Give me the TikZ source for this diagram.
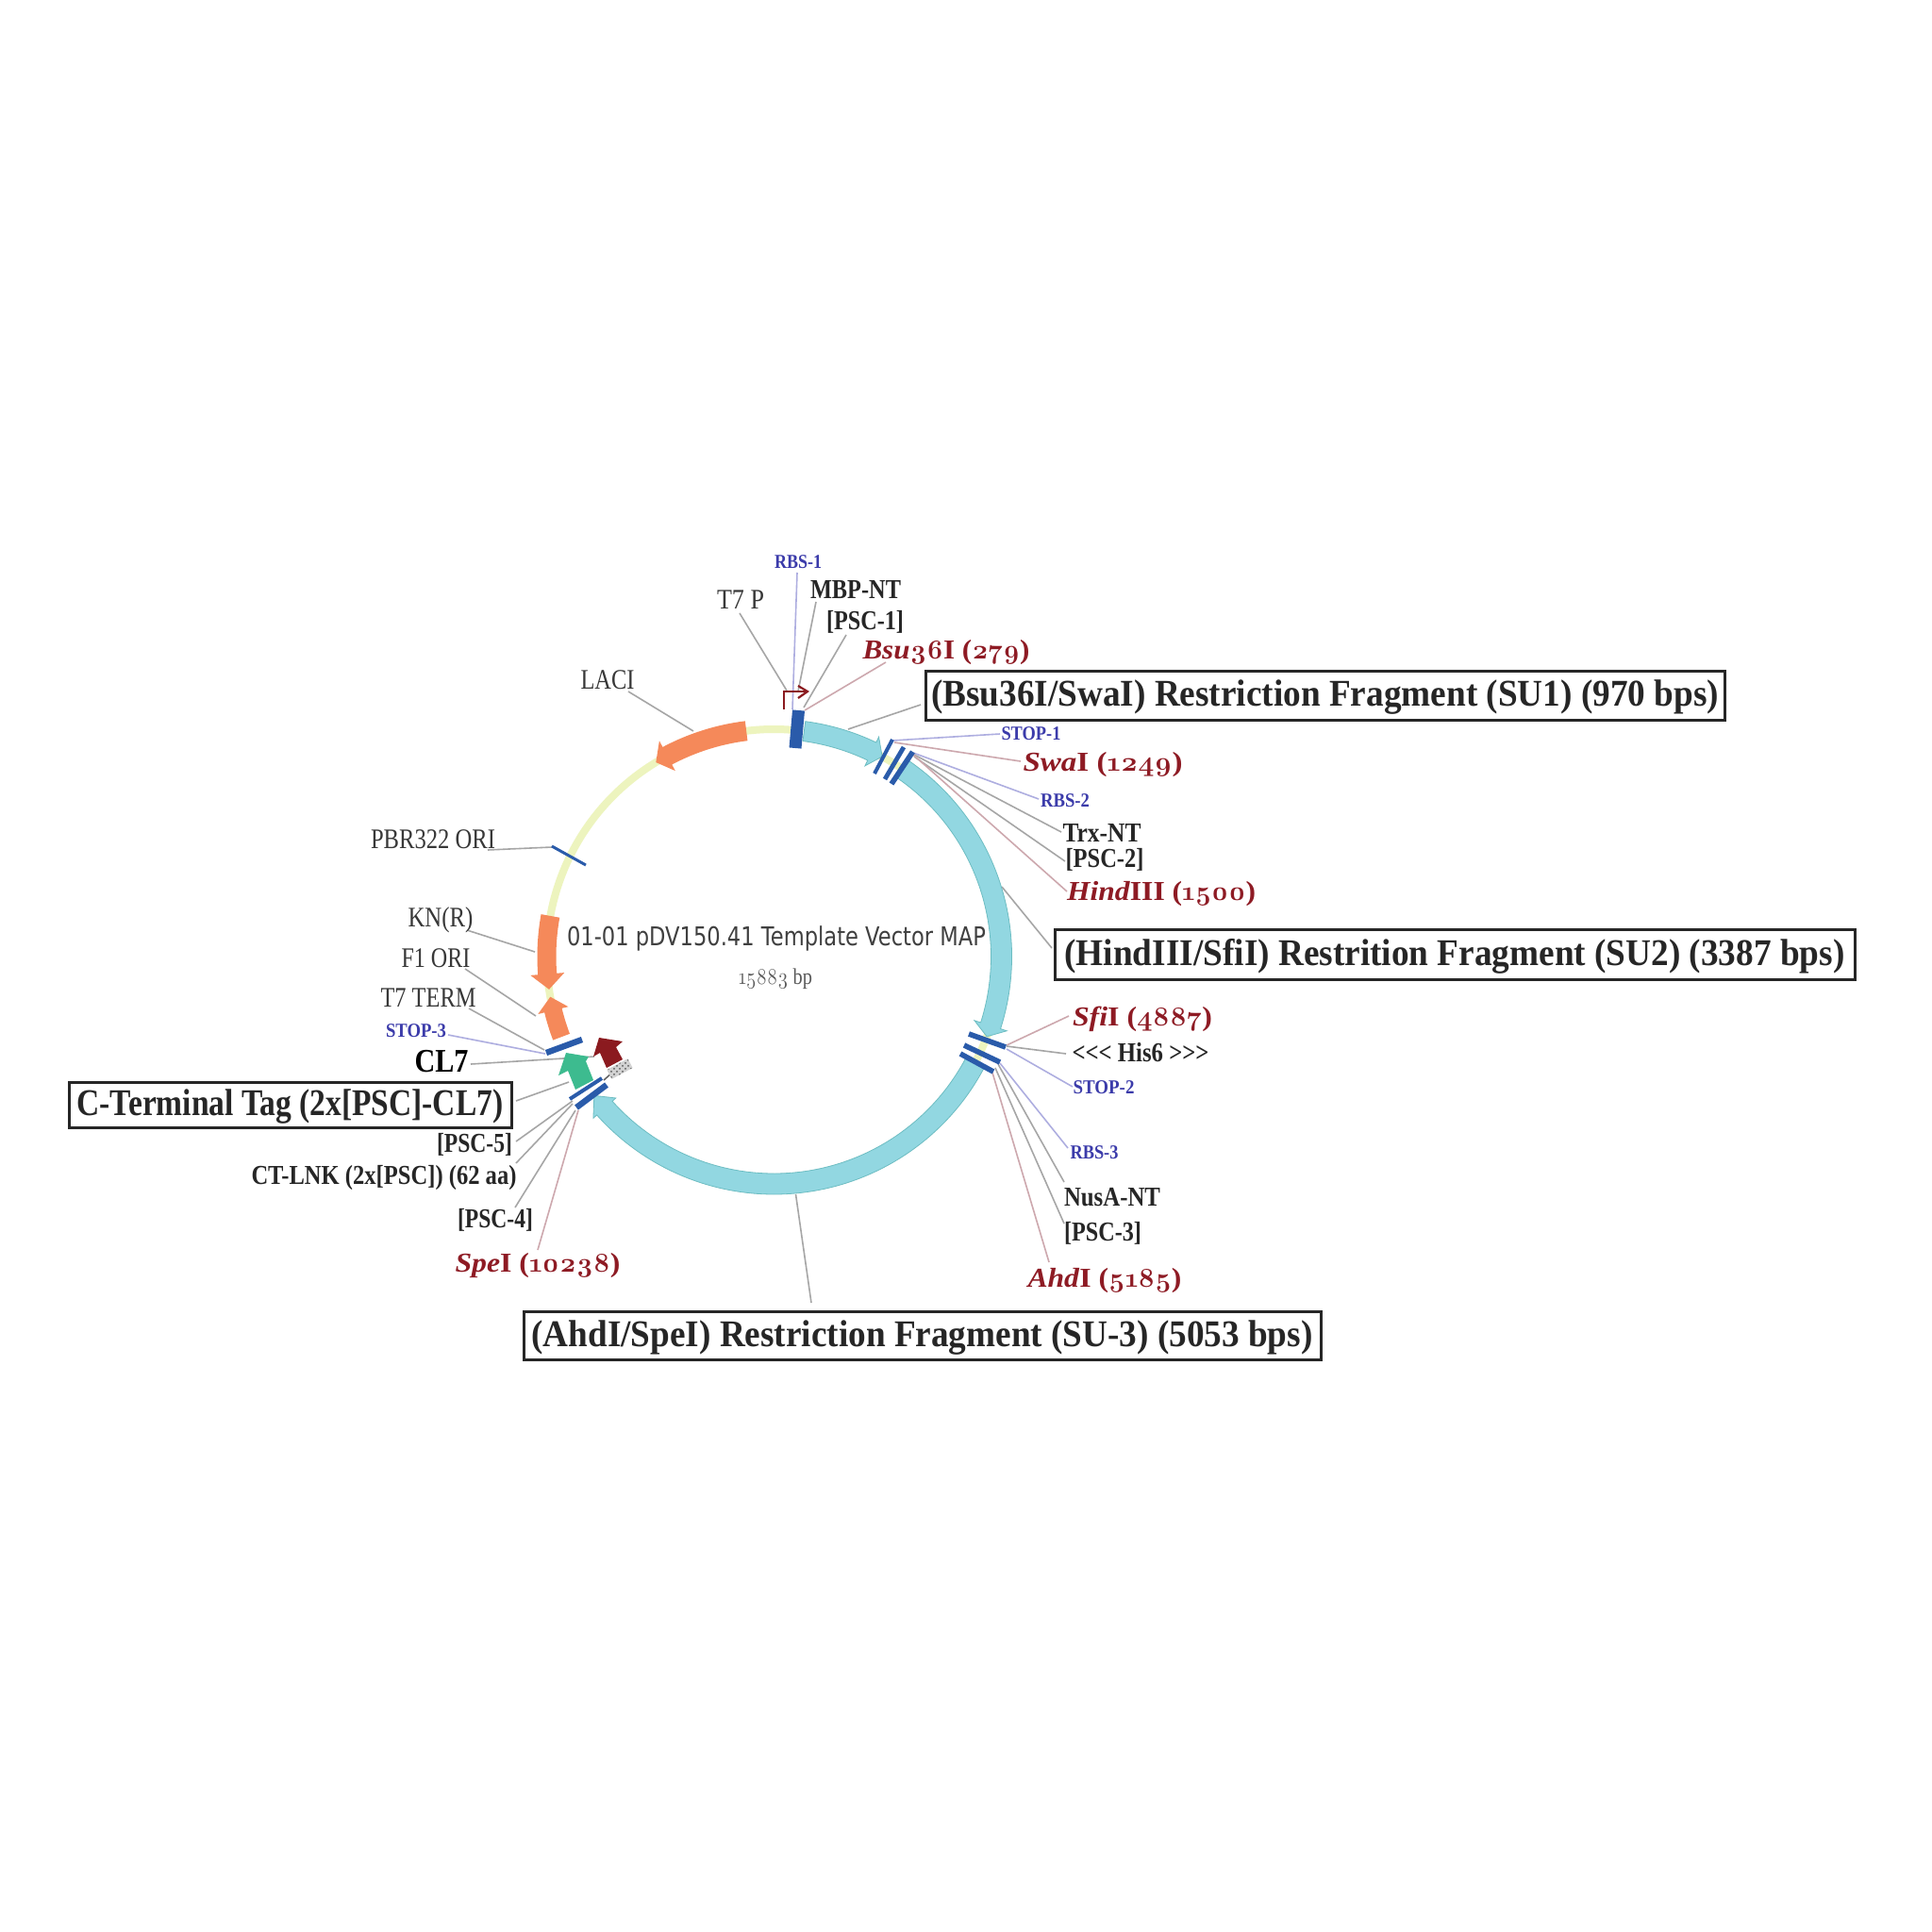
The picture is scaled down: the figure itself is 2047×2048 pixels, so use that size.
\documentclass[tikz,border=0pt]{standalone}
\usepackage{fontspec}
\usepackage{graphicx}
\usetikzlibrary{patterns}
\setmainfont{Liberation Serif}
\newfontfamily\sansmap{DejaVu Sans}
\newfontfamily\onum[Numbers=OldStyle]{Latin Modern Roman}
\newfontfamily\onumb[Numbers=OldStyle,FakeStretch=.9]{Latin Modern Roman}
\newcommand\od[1]{{\onumb\bfseries #1}}
\newdimen\pxu \pxu=.5pt
\definecolor{tealfill}{HTML}{92D7E1}
\definecolor{tealedge}{HTML}{6DBDC2}
\definecolor{orangefill}{HTML}{F5895A}
\definecolor{greenfill}{HTML}{3DBB8F}
\definecolor{barblue}{HTML}{2A5BAA}
\definecolor{ringyellow}{HTML}{EDF4BE}
\definecolor{enzred}{HTML}{8E1B24}
\definecolor{featblue}{HTML}{3B3BAA}
\definecolor{darkmaroon}{HTML}{8B1A1F}
\definecolor{leadgrey}{HTML}{A6A6A6}
\definecolor{leadpink}{HTML}{CDA8AE}
\definecolor{leadblue}{HTML}{AEAEE0}
\tikzset{
  lk/.style={draw=leadgrey,line width=.8pt},
  lp/.style={draw=leadpink,line width=.8pt},
  lb/.style={draw=leadblue,line width=.8pt},
  plainlab/.style={inner sep=0,text=black!78,font=\fontsize{15}{15}\selectfont},
  blacklab/.style={inner sep=0,text=black!85,font=\bfseries\fontsize{14.5}{15}\selectfont},
  bluelab/.style={inner sep=0,text=featblue,font=\bfseries\fontsize{10.5}{11}\selectfont},
  redlab/.style={inner sep=0,yshift=-1.2pt,text=enzred,font=\bfseries\fontsize{14.5}{15}\selectfont},
  biglab/.style={inner sep=0,text=black,font=\bfseries\fontsize{17.5}{18}\selectfont},
  framed/.style={draw=black!85,line width=1.5pt,fill=white,inner sep=0,text=black!85,
    text height=16pt,text depth=4.5pt,font=\bfseries\fontsize{20}{20}\selectfont},
  tealarrow/.style={fill=tealfill,draw=tealedge,line width=.4pt},
  orangearrow/.style={fill=orangefill},
  barthick/.style={draw=barblue,line width=2.8pt},
  barthin/.style={draw=barblue,line width=2pt},
  yellowring/.style={draw=ringyellow,line width=4pt}
}
% #1 style, #2 start angle, #3 angle of barbs, #4 tip angle, #5 shaft width, #6 head half-width
\newcommand\ringarrow[6]{%
  \pgfmathsetmacro\ro{241+#5/2}\pgfmathsetmacro\ri{241-#5/2}%
  \pgfmathsetmacro\hho{241+#6}\pgfmathsetmacro\hhi{241-#6}%
  \path[#1] (#2:\ro) arc[start angle=#2,end angle=#3,radius=\ro] -- (#3:\hho) -- (#4:241)
    -- (#3:\hhi) -- (#3:\ri) arc[start angle=#3,end angle=#2,radius=\ri] -- cycle;}
\newcommand\lab[6]{\node[#1] (#2) at (#3,#4) {\resizebox{#5\pxu}{\height}{#6}};}
\newcommand\leader[4]{\coordinate (#2-l) at (#3); \coordinate (#2-f) at (#4); \draw[#1] (#2-l) -- (#2-f);}
\newcommand\boxlab[7]{\node[framed,minimum width=#5\pxu,minimum height=#6\pxu] (#1) at (#2,#3) {\resizebox{#4\pxu}{\height}{#7}};}
\begin{document}
\begin{tikzpicture}[x=.5pt,y=-.5pt]
\useasboundingbox (0,0) rectangle (2047,2048);
\fill[white] (0,0) rectangle (2047,2048);

% ---- leaders (under the map)
\leader{lk}{t7p}{784,650}{834,732}
\leader{lb}{rbs1}{845,607}{840,752}
\leader{lk}{mbp}{865,638}{846,733}
\leader{lk}{psc1}{897,673}{852,750}
\leader{lp}{bsu}{939,702}{853,753}
\leader{lk}{su1}{976,747}{899,773}
\leader{lb}{stop1}{1060,778}{946,785}
\leader{lp}{swa}{1082,807}{948,787}
\leader{lb}{rbs2}{1101,847}{968,798}
\leader{lk}{trx}{1125,882}{969,800}
\leader{lk}{psc2}{1129,913}{969,802}
\leader{lp}{hind}{1131,945}{968,800}
\leader{lk}{su2}{1115,1005}{1062,940}
\leader{lp}{sfi}{1133,1077}{1067,1108}
\leader{lk}{his}{1130,1117}{1067,1109}
\leader{lb}{stop2}{1137,1152}{1067,1112}
\leader{lb}{rbs3}{1132,1217}{1060,1127}
\leader{lk}{nusa}{1128,1253}{1058,1128}
\leader{lk}{psc3}{1128,1297}{1055,1132}
\leader{lp}{ahd}{1112,1338}{1052,1137}
\leader{lk}{su3}{860,1381}{843.5,1266}
\leader{lk}{laci}{666,733}{735,775}
\leader{lk}{pbr}{517,901}{585,898}
\leader{lk}{kn}{495,986}{567,1009}
\leader{lk}{fone}{493,1027}{568,1077}
\leader{lk}{t7t}{497,1069}{577,1113}
\leader{lb}{stop3}{475,1097}{578,1117}
\leader{lk}{clseven}{499,1128}{630,1120}
\leader{lk}{cterm}{547,1167}{603,1147}
\leader{lk}{psc5}{547,1210}{607,1167}
\leader{lk}{ctlnk}{547,1233}{607,1170}
\leader{lk}{psc4}{546,1280}{610,1177}
\leader{lp}{spe}{570,1325}{613,1177}

% ---- the map
\begin{scope}[shift={(820.5,1014)}]
\draw[yellowring] (275:241) arc[start angle=275,end angle=169,radius=241];
\draw[yellowring] (-66:241) arc[start angle=-66,end angle=-54,radius=241];
\draw[yellowring] (19:241) arc[start angle=19,end angle=29,radius=241];
\ringarrow{tealarrow}{-82.4}{-64.5}{-61.6}{21}{17}
\ringarrow{tealarrow}{-55.9}{17.7}{20.6}{22}{18}
\ringarrow{tealarrow}{27.7}{138.2}{142.3}{22}{16}
\ringarrow{orangearrow}{263}{242}{238.7}{21}{18}
\ringarrow{orangearrow}{190.3}{175.6}{171.7}{20}{18}
\ringarrow{orangearrow}{159.3}{166.3}{169.8}{19}{16.5}
\end{scope}

\fill[greenfill] (600,1116) -- (624,1120) -- (621,1125) -- (629,1145) -- (610,1155) -- (602,1135) -- (592,1140) -- cycle;
\fill[darkmaroon] (635,1100) -- (660,1104) -- (653,1110) -- (660,1123) -- (643,1132) -- (636,1116) -- (629,1120) -- cycle;
\draw[black!60,line width=.8pt] (649,1137) -- (640,1145);
\node[rotate=28,minimum width=12.5pt,minimum height=5.5pt,inner sep=0,preaction={fill=gray!35},
  pattern=crosshatch dots,pattern color=gray!70!black] (hatch) at (657,1133) {};

% bars
\draw[draw=barblue,line width=6.5pt] (846.5,753) -- (843,793);
\draw[barthin] (946,784) -- (927,820);
\draw[barthick,line width=2.4pt] (958,792) -- (938,826);
\draw[barthick,line width=2.8pt] (967.5,797) -- (945,831);
\draw[barthick] (1027,1096) -- (1066,1110);
\draw[barthick] (1022,1108) -- (1060,1126);
\draw[barthick] (1018,1117) -- (1053,1136);
\draw[barthick,line width=3.2pt] (579,1116) -- (617,1102);
\draw[barthin] (604,1165) -- (638,1143);
\draw[barthick,line width=3.2pt] (611,1174) -- (643,1150);
\draw[barthin,line width=1.5pt] (585,897) -- (621,917);

% promoter
\draw[darkmaroon,line width=1.1pt] (831,752) -- (831,733) -- (855,733);
\draw[darkmaroon,line width=1.1pt] (846,727) -- (856,733) -- (846,740);

% ---- labels
\lab{bluelab}{l-rbs1}{846}{596}{50}{RBS-1}
\lab{blacklab}{l-mbp}{907}{625}{96}{MBP-NT}
\lab{plainlab}{l-t7p}{785}{636}{50}{T7 P}
\lab{blacklab}{l-psc1}{917}{659}{82}{[PSC-1]}
\lab{redlab}{l-bsu}{1003}{689}{177}{\textit{Bsu}\od{36}I (\od{279})}
\lab{bluelab}{l-stop1}{1093}{778}{63}{STOP-1}
\lab{redlab}{l-swa}{1169}{808}{169}{\textit{Swa}I (\od{1249})}
\lab{bluelab}{l-rbs2}{1129}{849}{52}{RBS-2}
\lab{blacklab}{l-trx}{1168}{883}{83}{Trx-NT}
\lab{blacklab}{l-psc2}{1171}{911}{83}{[PSC-2]}
\lab{redlab}{l-hind}{1231}{945}{200}{\textit{Hind}III (\od{1500})}
\lab{redlab}{l-sfi}{1211}{1078}{148}{\textit{Sfi}I (\od{4887})}
\lab{blacklab}{l-his}{1209}{1116}{145}{<{}<{}< His6 >{}>{}>}
\lab{bluelab}{l-stop2}{1170}{1153}{65}{STOP-2}
\lab{bluelab}{l-rbs3}{1160}{1222}{51}{RBS-3}
\lab{blacklab}{l-nusa}{1179}{1269}{102}{NusA-NT}
\lab{blacklab}{l-psc3}{1169}{1307}{82}{[PSC-3]}
\lab{redlab}{l-ahd}{1171}{1355}{163}{\textit{Ahd}I (\od{5185})}
\lab{plainlab}{l-laci}{644}{721}{57}{LACI}
\lab{plainlab}{l-pbr}{459}{890}{132}{PBR322 ORI}
\lab{plainlab}{l-kn}{467}{975}{69}{KN(R)}
\lab{plainlab}{l-fone}{462}{1016}{73}{F1 ORI}
\lab{plainlab}{l-t7t}{454}{1058}{101}{T7 TERM}
\lab{bluelab}{l-stop3}{441}{1093}{64}{STOP-3}
\lab{biglab}{l-cl7}{468}{1125}{57}{CL7}
\lab{blacklab}{l-psc5}{503}{1213}{80}{[PSC-5]}
\lab{blacklab}{l-ctlnk}{407}{1249}{281}{CT-LNK (2x[PSC]) (62 aa)}
\lab{blacklab}{l-psc4}{525}{1293}{80}{[PSC-4]}
\lab{redlab}{l-spe}{570}{1339}{175}{\textit{Spe}I (\od{10238})}

\boxlab{b-su1}{1404.5}{737}{835}{847}{52}{(Bsu36I/SwaI) Restriction Fragment (SU1) (970 bps)}
\boxlab{b-su2}{1542}{1011.5}{827}{848}{53}{(HindIII/SfiI) Restrition Fragment (SU2) (3387 bps)}
\boxlab{b-su3}{977.5}{1416}{828}{845}{51}{(AhdI/SpeI) Restriction Fragment (SU-3) (5053 bps)}
\boxlab{b-ct}{307.5}{1171}{452}{469}{48}{C-Terminal Tag (2x[PSC]-CL7)}

\node[inner sep=0,text=black!75,font=\sansmap\fontsize{13.7}{14}\selectfont] (title) at (823,995)
  {\resizebox{444\pxu}{\height}{01-01 pDV150.41 Template Vector MAP}};
\node[inner sep=0,text=black!65,font=\fontsize{12}{12}\selectfont] (size) at (822,1038)
  {\resizebox{78\pxu}{\height}{{\onum 15883} bp}};
\end{tikzpicture}
\end{document}
